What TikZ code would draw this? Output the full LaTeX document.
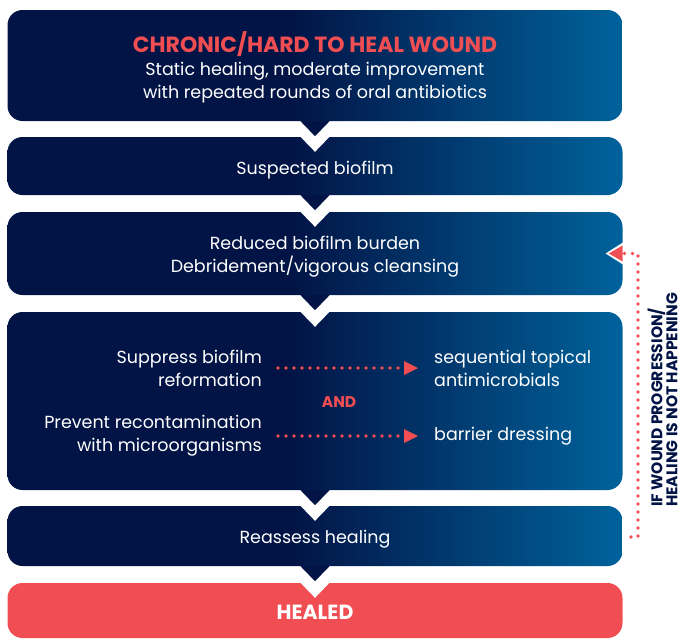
\documentclass[tikz,border=0pt]{standalone}
\usepackage{fontspec}
\setmainfont{Poppins}
\usetikzlibrary{arrows.meta,calc}

\definecolor{boxnavy}{RGB}{2,20,70}
\definecolor{boxblue}{RGB}{0,98,155}
\definecolor{alertred}{RGB}{240,78,82}

% dark on the left half, brightening towards the right edge
\pgfdeclarehorizontalshading{boxshade}{100bp}{color(0bp)=(boxnavy); color(25bp)=(boxnavy); color(48bp)=(boxnavy); color(75bp)=(boxblue); color(100bp)=(boxblue)}

\tikzset{
  boxbase/.style={rounded corners=15pt, minimum width=615pt, inner sep=0pt},
  stepbox/.style={boxbase, shade, shading=boxshade},
  healbox/.style={boxbase, fill=alertred},
  steptext/.style={text=white, inner sep=0pt, align=center, font=\fontsize{17.5}{23}\selectfont},
  sidetext/.style={text=white, inner sep=0pt, font=\fontsize{17.5}{23}\selectfont},
  dotline/.style={alertred, line width=3.8pt, line cap=round, dash pattern=on 0pt off 8pt},
}

\begin{document}
\begin{tikzpicture}[x=1pt, y=-1pt]
    \useasboundingbox (0,0) rectangle (684,640);

    % Steps, top to bottom
    \node[stepbox, minimum height=111pt] (chronic) at (315,65.5) {};
    \node[stepbox, minimum height=58pt] (suspect) at (315,166) {};
    \node[stepbox, minimum height=83pt] (reduced) at (315,253.5) {};
    \node[stepbox, minimum height=178pt] (suppress) at (315,401) {};
    \node[stepbox, minimum height=60pt] (reassess) at (315,536) {};
    \node[healbox, minimum height=55pt] (healed) at (315,610.5) {};

    % Chevrons between the steps
    \foreach \upper/\lower in {chronic/suspect, suspect/reduced, reduced/suppress, suppress/reassess, reassess/healed}{
        \fill[white] ($(\lower.north)+(-15.5,-1)$) -- ++(31,0) -- ($(\lower.north)+(0,15)$) -- cycle;
        \fill[boxnavy] ($(\upper.south)+(-14.5,0)$) -- ++(29,0) -- ($(\upper.south)+(0,15)$) -- cycle;
    }

    % Step texts
    \node[steptext, yshift=-1.5pt] (chronictxt) at (chronic) {{\fontsize{22}{23}\selectfont\bfseries\color{alertred}CHRONIC/HARD TO HEAL WOUND}\\Static healing, moderate improvement\\with repeated rounds of oral antibiotics};
    \node[steptext, yshift=-4pt] (suspecttxt) at (suspect) {Suspected biofilm};
    \node[steptext, yshift=-3pt] (reducedtxt) at (reduced) {Reduced biofilm burden\\Debridement/vigorous cleansing};
    \node[steptext, yshift=-3pt] (reassesstxt) at (reassess) {Reassess healing};
    \node[steptext, yshift=-2pt, font=\fontsize{20.5}{23}\selectfont\bfseries] (healedtxt) at (healed) {HEALED};

    % Inside the big step
    \node[sidetext, anchor=east, align=right] (sup) at (262,368) {Suppress biofilm\\reformation};
    \node[sidetext, anchor=west, align=left] (seq) at (434,368) {sequential topical\\antimicrobials};
    \node[sidetext, anchor=east, align=right] (prev) at (262,436) {Prevent recontamination\\with microorganisms};
    \node[sidetext, anchor=west, align=left] (bar) at (434,436) {barrier dressing};
    \node[text=alertred, font=\fontsize{15.5}{16}\selectfont\bfseries] (and) at (339,402.5) {AND};
    \draw[dotline, shorten <=16pt, shorten >=16pt, -{Triangle[length=14pt, width=14pt, line width=0pt]}] (sup) -- (seq);
    \draw[dotline, shorten <=16pt, shorten >=16pt, -{Triangle[length=14pt, width=14pt, line width=0pt]}] (prev) -- (bar);

    % Loop back when healing stalls
    \coordinate (fbstart) at (631,537);
    \draw[dotline, -{Triangle[length=14pt, width=16pt, line width=0pt]},
          preaction={draw=white, solid, line width=3pt, shorten >=-3pt, -{Triangle[length=18pt, width=23pt, line width=0pt]}}]
        (fbstart) -- ++(7,0) |- ([xshift=-14pt]reduced.east);
    \node[rotate=90, anchor=west, align=left, text=boxnavy, inner sep=0pt, font=\fontsize{15.5}{13}\selectfont\bfseries] (note) at (662.5,507) {IF WOUND PROGRESSION/\\HEALING IS NOT HAPPENING};
\end{tikzpicture}
\end{document}
